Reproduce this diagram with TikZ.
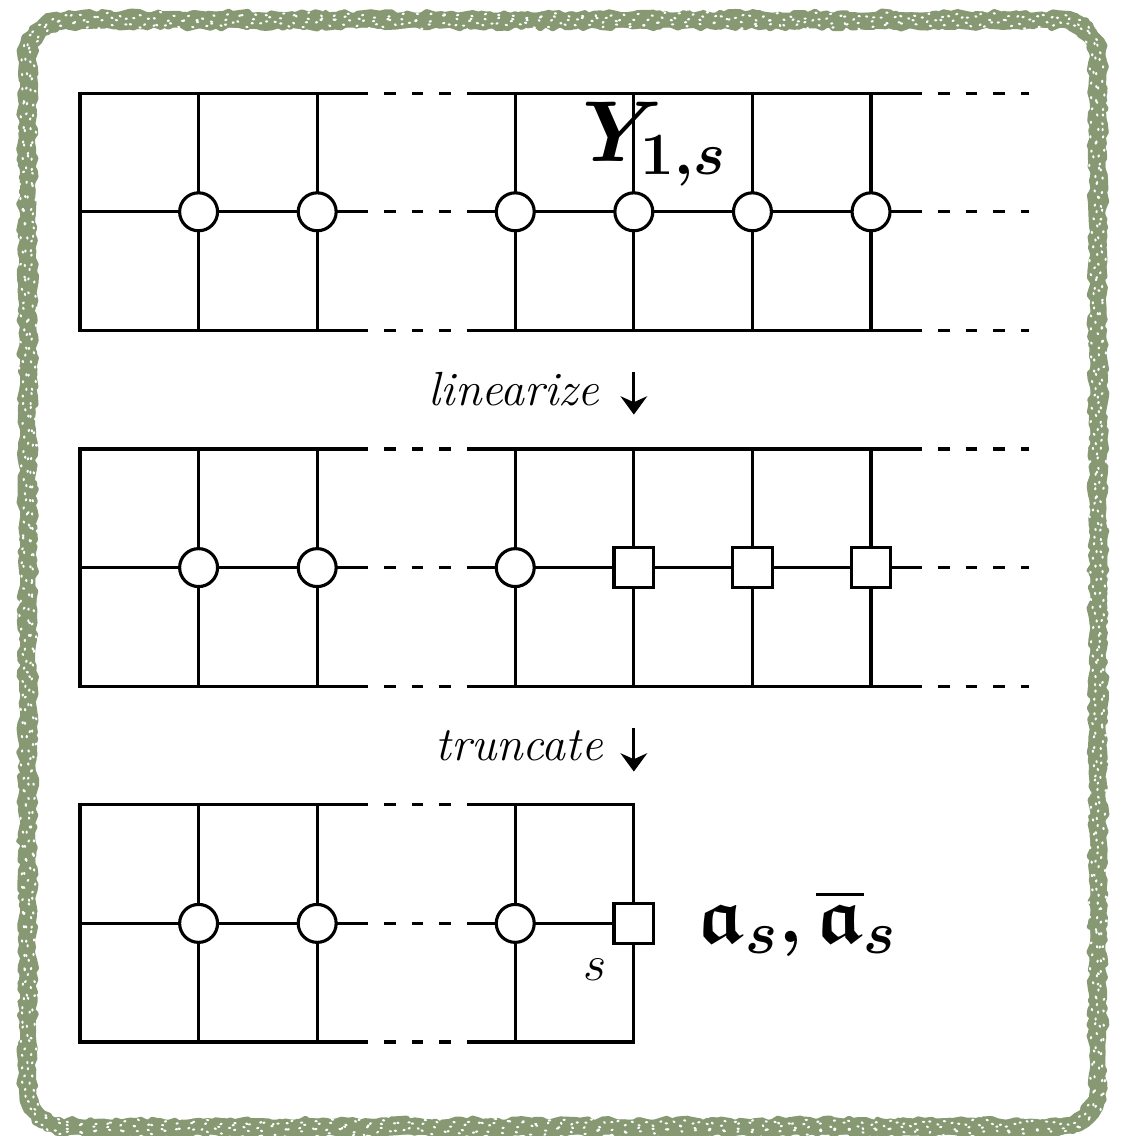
\documentclass[tikz,border=0pt]{standalone}
\usepackage{amsmath,amssymb}
\usetikzlibrary{arrows.meta,positioning,decorations.pathmorphing}
\definecolor{sage}{RGB}{134,153,115}
\tikzset{
    gridline/.style={line width=0.75pt,line cap=rect},
    gapline/.style={line width=0.75pt,dash pattern=on 2.8pt off 3.85pt},
    joint/.style={circle,draw,fill=white,line width=0.75pt,inner sep=0pt,minimum size=0.32cm},
    boxjoint/.style={rectangle,draw,fill=white,line width=0.75pt,inner sep=0pt,minimum size=0.335cm},
    steplabel/.style={font=\fontsize{11.5}{14}\selectfont,inner sep=0pt},
    steparrow/.style={line width=0.7pt,-{Stealth[length=4.4pt,width=6.4pt]}},
    biglabel/.style={font=\fontsize{20}{24}\selectfont\boldmath,inner sep=0pt},
    framestroke/.style={sage,line width=3.6pt,rounded corners=0.33cm},
    framerough/.style={sage,line width=1.1pt,line join=round,line cap=round,decorate,
        decoration={random steps,segment length=1.5pt,amplitude=0.65pt}},
    framespeck/.style={white,line width=0.5pt,line cap=round,dash pattern=on 0.3pt off 3.2pt,decorate,
        decoration={random steps,segment length=2pt,amplitude=0.9pt}}
}

\begin{document}
\begin{tikzpicture}
    \useasboundingbox (-0.6745,-0.7926) rectangle (8.7774,8.786);
    % Chalky frame
    \draw[framestroke] (-0.442,-0.717) rectangle (8.583,8.617);
    \begin{scope}[shift={(4.0705,3.95)}]
        \foreach \o/\sd/\sty in {0.055/3/framerough,-0.055/4/framerough,0.045/8/framerough,-0.045/9/framerough,
                                  0.015/5/framespeck,-0.02/6/framespeck,0.04/7/framespeck,-0.045/2/framespeck} {
            \pgfmathsetseed{\sd}
            \pgfmathsetmacro{\fw}{4.5125+\o}
            \pgfmathsetmacro{\fh}{4.667+\o}
            \pgfmathsetmacro{\fr}{0.33+\o}
            \draw[\sty] (-\fw+\fr,-\fh) -- (\fw-\fr,-\fh) arc[start angle=-90,end angle=0,radius=\fr]
                -- (\fw,\fh-\fr) arc[start angle=0,end angle=90,radius=\fr]
                -- (-\fw+\fr,\fh) arc[start angle=90,end angle=180,radius=\fr]
                -- (-\fw,-\fh+\fr) arc[start angle=180,end angle=270,radius=\fr];
        }
    \end{scope}

    % Upper and middle lattices
    \foreach \yb in {3,6} {
        \foreach \dy in {0,1,2} {
            \draw[gridline] (0,\yb+\dy) -- (2.33,\yb+\dy);
            \draw[gapline] (2.33,\yb+\dy) -- (3.33,\yb+\dy);
            \draw[gridline] (3.33,\yb+\dy) -- (7,\yb+\dy);
            \draw[gapline] (7,\yb+\dy) -- (8,\yb+\dy);
        }
        \foreach \x in {0,1,2,3.67,4.67,5.67,6.67}
            \draw[gridline] (\x,\yb) -- (\x,\yb+2);
    }
    % Truncated lattice
    \foreach \dy in {0,1,2} {
        \draw[gridline] (0,\dy) -- (2.33,\dy);
        \draw[gapline] (2.33,\dy) -- (3.33,\dy);
        \draw[gridline] (3.33,\dy) -- (4.67,\dy);
    }
    \foreach \x in {0,1,2,3.67,4.67}
        \draw[gridline] (\x,0) -- (\x,2);

    % Vertices
    \foreach \x [count=\i] in {1,2,3.67,4.67,5.67,6.67}
        \node[joint] (t\i) at (\x,7) {};
    \foreach \x [count=\i] in {1,2,3.67}
        \node[joint] (m\i) at (\x,4) {};
    \foreach \x [count=\i from 4] in {4.67,5.67,6.67}
        \node[boxjoint] (m\i) at (\x,4) {};
    \foreach \x [count=\i] in {1,2,3.67}
        \node[joint] (b\i) at (\x,1) {};
    \node[boxjoint] (b4) at (4.67,1) {};

    % Steps between the lattices
    \coordinate (linTop) at (4.67,5.65);
    \coordinate (linTip) at (4.67,5.29);
    \draw[steparrow] (linTop) -- (linTip);
    \node[steplabel,anchor=base east] (lin) at (4.39,5.37) {\textit{linearize}};
    \coordinate (truTop) at (4.67,2.65);
    \coordinate (truTip) at (4.67,2.28);
    \draw[steparrow] (truTop) -- (truTip);
    \node[steplabel,anchor=base east] (tru) at (4.42,2.37) {\textit{truncate}};

    % Labels
    \node[biglabel,anchor=base] (ylab) at (4.85,7.42) {$Y_{1,s}$};
    \node[steplabel] (slab) at (4.34,0.61) {$s$};
    \node[biglabel,font=\fontsize{19}{23}\selectfont\boldmath,anchor=base west] (alab) at (5.2,0.835)
        {$\mathfrak{a}_s,\overline{\mathfrak{a}}_s$};
\end{tikzpicture}
\end{document}
